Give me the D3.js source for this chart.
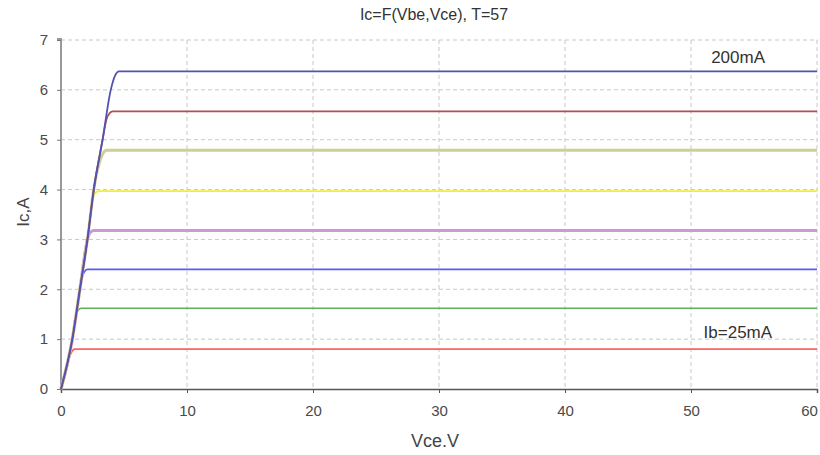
<!DOCTYPE html>
<html>
<head>
<meta charset="utf-8">
<script src="https://cdn.jsdelivr.net/npm/d3@7"></script>
<style>
  body { margin: 0; background: #fff; }
  text { font-family: "Liberation Sans", Arial, sans-serif; }
</style>
</head>
<body>
<div id="chart"></div>
<script>
// base current of each curve
var ibValues = ["25mA", "50mA", "75mA", "100mA", "125mA", "150mA", "175mA", "200mA"];
var lineColors = ["#ff6262", "#5cb05c", "#5a5aff", "#cc99d4", "#f2f030", "#cccf96", "#b24e4e", "#5252b4"];
var lineWidths = [1.6, 1.6, 1.8, 3, 1.8, 3, 1.8, 1.8];

// [Vce, Ic] points
var curve25 = [[0, 0], [0.6, 0.58], [0.8, 0.72], [1.1, 0.80], [60, 0.80]];
var curve50 = [[0, 0], [0.9, 1.0], [1.1, 1.4], [1.3, 1.56], [1.6, 1.62], [60, 1.62]];
var curve75 = [[0, 0], [0.9, 1.0], [1.5, 2.0], [1.65, 2.22], [1.85, 2.35], [2.1, 2.40], [60, 2.40]];
var curve100 = [[0, 0], [0.9, 1.0], [1.5, 2.0], [2.1, 3.0], [2.3, 3.13], [2.6, 3.18], [60, 3.18]];
var curve125 = [[0, 0], [0.9, 1.0], [1.5, 2.0], [2.1, 3.0], [2.6, 3.87], [2.8, 3.95], [3.0, 3.97], [60, 3.97]];
var curve150 = [[0, 0], [0.9, 1.0], [1.5, 2.0], [2.1, 3.0], [2.6, 4.0], [3.0, 4.5], [3.3, 4.71], [3.6, 4.79], [60, 4.79]];
var curve175 = [[0, 0], [0.9, 1.0], [1.5, 2.0], [2.1, 3.0], [2.6, 4.0], [3.3, 5.0], [3.6, 5.4], [3.85, 5.53], [4.1, 5.57], [60, 5.57]];
var curve200 = [[0, 0], [0.9, 1.0], [1.5, 2.0], [2.1, 3.0], [2.6, 4.0], [3.3, 5.0], [3.95, 6.0], [4.3, 6.29], [4.6, 6.37], [60, 6.37]];
var curves = [curve25, curve50, curve75, curve100, curve125, curve150, curve175, curve200];

var xTicks = [0, 10, 20, 30, 40, 50, 60];
var yTicks = [0, 1, 2, 3, 4, 5, 6, 7];

var svgWidth = 820;
var svgHeight = 455;
var margin = { top: 40, right: 2, bottom: 66, left: 61 };
var width = svgWidth - margin.left - margin.right;
var height = svgHeight - margin.top - margin.bottom;

var svg = d3.select("#chart")
  .append("svg")
  .attr("width", svgWidth)
  .attr("height", svgHeight);

var chartGroup = svg.append("g")
  .attr("transform", `translate(${margin.left}, ${margin.top})`);

var xScale = d3.scaleLinear().domain([0, 60]).range([0, width - 1]);
var yScale = d3.scaleLinear().domain([0, 7]).range([height, 0]);

// dashed grid
chartGroup.append("g")
  .selectAll("line")
  .data(yTicks.filter(d => d > 0))
  .enter()
  .append("line")
  .attr("x1", 0)
  .attr("x2", width)
  .attr("y1", d => yScale(d))
  .attr("y2", d => yScale(d))
  .attr("stroke", "#c8c8c8")
  .attr("stroke-dasharray", "4,3");

chartGroup.append("g")
  .selectAll("line")
  .data(xTicks.filter(d => d > 0))
  .enter()
  .append("line")
  .attr("x1", d => xScale(d))
  .attr("x2", d => xScale(d))
  .attr("y1", 0)
  .attr("y2", height)
  .attr("stroke", "#c8c8c8")
  .attr("stroke-dasharray", "4,3");

// axes
var bottomAxis = d3.axisBottom(xScale).tickValues(xTicks).tickFormat(d3.format("d")).tickSize(4).tickPadding(12);
var leftAxis = d3.axisLeft(yScale).tickValues(yTicks).tickFormat(d3.format("d")).tickSize(4).tickPadding(9);

var xAxisG = chartGroup.append("g")
  .attr("transform", `translate(0, ${height})`)
  .call(bottomAxis);
xAxisG.select(".domain").attr("stroke", "#555").attr("stroke-width", 1.5);
xAxisG.selectAll(".tick line").attr("stroke", "#555");
xAxisG.selectAll(".tick text").filter(d => d === 60).attr("dx", "-8");

var yAxisG = chartGroup.append("g").call(leftAxis);
yAxisG.select(".domain").attr("stroke", "#999").attr("stroke-width", 2)
  .attr("d", `M-4,${-1}H0V${height}`);
yAxisG.selectAll(".tick line").attr("stroke", "#777");

chartGroup.selectAll(".tick text")
  .attr("font-size", "15px")
  .attr("fill", "#4a4a4a");

// curves
var line = d3.line()
  .x(d => xScale(d[0]))
  .y(d => yScale(d[1]))
  .curve(d3.curveMonotoneX);

chartGroup.selectAll(".ib-line")
  .data(curves)
  .enter()
  .append("path")
  .attr("class", "ib-line")
  .attr("d", line)
  .attr("fill", "none")
  .attr("stroke", (d, i) => lineColors[i])
  .attr("stroke-width", (d, i) => lineWidths[i]);

// curve labels
chartGroup.append("text")
  .attr("x", xScale(51.6))
  .attr("y", yScale(6.37) - 8)
  .attr("font-size", "17px")
  .attr("fill", "#333")
  .text(ibValues[7]);

chartGroup.append("text")
  .attr("x", xScale(51.0))
  .attr("y", yScale(0.8) - 11)
  .attr("font-size", "17px")
  .attr("fill", "#333")
  .text("Ib=" + ibValues[0]);

// titles
svg.append("text")
  .attr("x", 434)
  .attr("y", 20)
  .attr("text-anchor", "middle")
  .attr("font-size", "16px")
  .attr("fill", "#333")
  .text("Ic=F(Vbe,Vce), T=57");

svg.append("text")
  .attr("transform", "rotate(-90)")
  .attr("x", -212)
  .attr("y", 29)
  .attr("text-anchor", "middle")
  .attr("font-size", "17px")
  .attr("fill", "#444")
  .text("Ic,A");

svg.append("text")
  .attr("x", 435)
  .attr("y", 447)
  .attr("text-anchor", "middle")
  .attr("font-size", "18px")
  .attr("fill", "#444")
  .text("Vce.V");
</script>
</body>
</html>
